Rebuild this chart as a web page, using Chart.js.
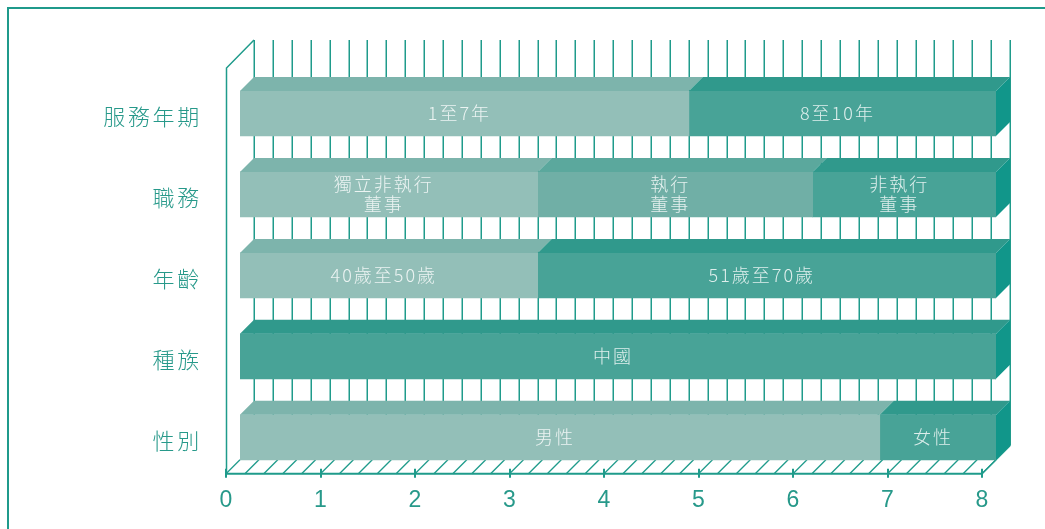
<!DOCTYPE html>
<html><head><meta charset="utf-8">
<script src="https://cdn.jsdelivr.net/npm/chart.js@4.4.1/dist/chart.umd.min.js"></script>
<style>
html,body{margin:0;padding:0;background:#fff;overflow:hidden;}
#wrap{position:relative;width:1045px;height:529px;}
#frame{position:absolute;left:7px;top:7px;width:1100px;height:600px;border-left:2px solid #1f9a8b;border-top:2px solid #1f9a8b;}
canvas{position:absolute;left:0;top:0;}
</style></head>
<body><div id="wrap"><div id="frame"></div><canvas id="c" width="1045" height="529"></canvas></div>
<script>
// ---- data ----
const categories = ['服務年期', '職務', '年齡', '種族', '性別'];
const seriesA = [4.75, 3.15, 3.15, 8.00, 6.77];
const seriesB = [3.25, 2.91, 4.85, 0, 1.23];
const seriesC = [0, 1.94, 0, 0, 0];
const labelsA = [['1至7年'], ['獨立非執行', '董事'], ['40歲至50歲'], ['中國'], ['男性']];
const labelsB = [['8至10年'], ['執行', '董事'], ['51歲至70歲'], [], ['女性']];
const labelsC = [[], ['非執行', '董事'], [], [], []];
const xMin = 0, xMax = 8, xStep = 1, gridStep = 0.2;

// ---- styles ----
const palette = {
  light: { front: '#93bfb8', top: '#7db4ac' },
  mid:   { front: '#70afa6', top: '#5ba89d' },
  dark:  { front: '#48a397', top: '#30998c', side: '#11968a' }
};
const shadesA = ['light', 'light', 'light', 'dark', 'light'];
const shadesB = ['dark', 'mid', 'dark', 'dark', 'dark'];
const shadesC = ['dark', 'dark', 'dark', 'dark', 'dark'];
const teal = '#27998a';
const lineTeal = '#1f9b8b';
const depth = 14;
const axisSpacing = 2.7;
const cjk = "'Noto Sans CJK TC', 'Noto Sans', sans-serif";
const latin = "'Liberation Sans', 'Roboto', sans-serif";

const allShades = [shadesA, shadesB, shadesC];
const allLabels = [labelsA, labelsB, labelsC];

const threeD = {
  id: 'threeD',
  beforeDraw(chart) {
    chart.ctx.letterSpacing = axisSpacing + 'px';
  },
  beforeDatasetsDraw(chart) {
    const ctx = chart.ctx, xs = chart.scales.x, ca = chart.chartArea;
    const meta = chart.getDatasetMeta(0);
    const last = meta.data[meta.data.length - 1];
    const floorFront = last.y + last.height / 2 + depth;
    const backBottom = floorFront - 2 * depth;
    const backTop = ca.top - 33;
    const px = v => xs.getPixelForValue(v);
    ctx.save();
    ctx.letterSpacing = '0px';
    ctx.strokeStyle = lineTeal;
    ctx.lineWidth = 1.5;
    const n = Math.round((xMax - xMin) / gridStep);
    for (let k = 0; k <= n; k++) {
      const x = Math.round(px(xMin + k * gridStep) + depth) + 0.25;
      ctx.beginPath(); ctx.moveTo(x, backTop); ctx.lineTo(x, backBottom); ctx.stroke();
    }
    ctx.lineWidth = 1.3;
    for (let k = 0; k <= n; k++) {
      const x = px(xMin + k * gridStep);
      ctx.beginPath(); ctx.moveTo(x - depth, floorFront); ctx.lineTo(x, floorFront - depth); ctx.stroke();
    }
    const x0 = px(xMin) - depth, x8 = px(xMax) - depth;
    ctx.lineWidth = 1.5;
    ctx.beginPath();
    ctx.moveTo(x0 + 0.5, floorFront); ctx.lineTo(x0 + 0.5, backTop + 2 * depth); ctx.lineTo(x0 + 2 * depth, backTop);
    ctx.stroke();
    ctx.beginPath(); ctx.moveTo(x8, floorFront); ctx.lineTo(x8 + 2 * depth, backBottom); ctx.stroke();
    ctx.lineWidth = 2;
    ctx.beginPath(); ctx.moveTo(x0, floorFront); ctx.lineTo(x8, floorFront); ctx.stroke();
    for (let v = xMin; v <= xMax; v += xStep) {
      const x = Math.round(px(v) - depth);
      ctx.beginPath(); ctx.moveTo(x, floorFront - 5); ctx.lineTo(x, floorFront + 4); ctx.stroke();
    }
    ctx.restore();
  },
  afterDatasetsDraw(chart) {
    const ctx = chart.ctx;
    ctx.save();
    const nCat = categories.length;
    for (let i = 0; i < nCat; i++) {
      let lastEl = null;
      chart.data.datasets.forEach((ds, di) => {
        const el = chart.getDatasetMeta(di).data[i];
        if (!el || !ds.data[i]) return;
        const x0 = el.base, x1 = el.x, top = el.y - el.height / 2;
        ctx.fillStyle = palette[allShades[di][i]].top;
        ctx.beginPath();
        ctx.moveTo(x0, top); ctx.lineTo(x0 + depth, top - depth);
        ctx.lineTo(x1 + depth, top - depth); ctx.lineTo(x1, top); ctx.closePath(); ctx.fill();
        lastEl = { el, di };
      });
      if (lastEl) {
        const el = lastEl.el, x1 = el.x, top = el.y - el.height / 2, bot = el.y + el.height / 2;
        ctx.fillStyle = palette.dark.side;
        ctx.beginPath();
        ctx.moveTo(x1, top); ctx.lineTo(x1 + depth, top - depth);
        ctx.lineTo(x1 + depth, bot - depth); ctx.lineTo(x1, bot); ctx.closePath(); ctx.fill();
      }
    }
    ctx.fillStyle = 'rgba(255,255,255,0.82)';
    ctx.font = '300 18px ' + cjk;
    ctx.letterSpacing = '2px';
    ctx.textAlign = 'center';
    ctx.textBaseline = 'middle';
    chart.data.datasets.forEach((ds, di) => {
      chart.getDatasetMeta(di).data.forEach((el, i) => {
        const lines = allLabels[di][i];
        if (!lines || !lines.length || !ds.data[i]) return;
        const cx = (el.base + el.x) / 2 - 5;
        const lh = 20;
        lines.forEach((t, li) => {
          const cy = el.y + (li - (lines.length - 1) / 2) * lh;
          ctx.fillText(t, cx, cy);
        });
      });
    });
    ctx.restore();
  }
};

const mk = (data, shades) => ({
  data,
  backgroundColor: shades.map(s => palette[s].front),
  borderWidth: 0,
  barThickness: 45
});

new Chart(document.getElementById('c'), {
  type: 'bar',
  data: {
    labels: categories,
    datasets: [mk(seriesA, shadesA), mk(seriesB, shadesB), mk(seriesC, shadesC)]
  },
  options: {
    indexAxis: 'y',
    responsive: false,
    animation: false,
    layout: { padding: { left: 0, right: 49, top: 73, bottom: 0 } },
    plugins: { legend: { display: false }, tooltip: { enabled: false } },
    scales: {
      x: {
        stacked: true, min: xMin, max: xMax,
        ticks: { stepSize: xStep, labelOffset: -depth + axisSpacing / 2, padding: 9, color: teal,
                 font: { size: 23, family: latin, weight: '300' } },
        grid: { display: false, drawTicks: false },
        border: { display: false },
        afterFit(s) { s.height = 51; }
      },
      y: {
        stacked: true,
        ticks: { padding: 38, color: teal, labelOffset: 3,
                 font: { size: 22, family: cjk, weight: '300' } },
        grid: { display: false, drawTicks: false },
        border: { display: false },
        afterFit(s) { s.width = 240; }
      }
    }
  },
  plugins: [threeD]
});
</script>
</body></html>
